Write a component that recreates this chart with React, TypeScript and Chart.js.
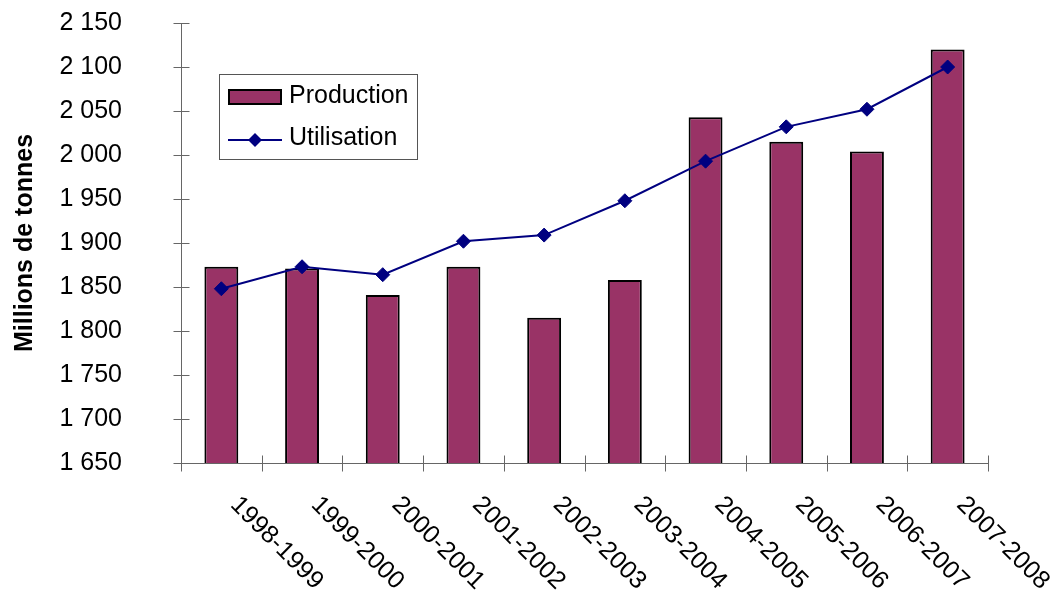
import React, { useEffect, useRef } from "react";
import { Chart, registerables } from "chart.js";
Chart.register(...registerables);

const categories = [
  "1998-1999", "1999-2000", "2000-2001", "2001-2002", "2002-2003",
  "2003-2004", "2004-2005", "2005-2006", "2006-2007", "2007-2008",
];
const production = [1873, 1871, 1841, 1873, 1815, 1858, 2043, 2015, 2004, 2120];
const utilisation = [1848, 1873, 1864, 1902, 1909, 1948, 1993, 2032, 2052, 2100];
const seriesNames = ["Production", "Utilisation"];
const yMin = 1650;
const yMax = 2150;
const yStep = 50;
const yTitle = "Millions de tonnes";

const FONT = "'Liberation Sans', Arial, sans-serif";
const BAR_COLOR = "#993366";
const LINE_COLOR = "#000080";
const AXIS_COLOR = "#666666";

const fmt = (v: number) => {
  const s = String(Math.round(v));
  return s.replace(/\B(?=(\d{3})+(?!\d))/g, " ");
};

const customPlugin = {
  id: "custom",
  afterDraw(chart: any) {
    const ctx = chart.ctx as CanvasRenderingContext2D;
    const x = chart.scales.x;
    const y = chart.scales.y;
    const area = chart.chartArea;
    ctx.save();
    // crossing tick marks
    ctx.strokeStyle = AXIS_COLOR;
    ctx.lineWidth = 1;
    ctx.beginPath();
    const ax = Math.round(area.left) + 0.5;
    const ay = Math.round(area.bottom) + 0.5;
    y.ticks.forEach((_t: any, i: number) => {
      const py = Math.round(y.getPixelForTick(i)) + 0.5;
      ctx.moveTo(ax - 8, py);
      ctx.lineTo(ax + 8, py);
    });
    const n = categories.length;
    const w = (area.right - area.left) / n;
    for (let i = 0; i <= n; i++) {
      const px = Math.round(area.left + w * i) + 0.5;
      ctx.moveTo(px, ay - 8);
      ctx.lineTo(px, ay + 8);
    }
    ctx.stroke();

    // rotated category labels
    ctx.fillStyle = "#000";
    ctx.font = `25px ${FONT}`;
    ctx.textAlign = "left";
    ctx.textBaseline = "middle";
    categories.forEach((c, i) => {
      const cx = x.getPixelForValue(i);
      ctx.save();
      ctx.translate(cx + 13, area.bottom + 38);
      ctx.rotate(Math.PI / 4);
      ctx.fillText(c, 0, 0);
      ctx.restore();
    });

    // legend
    const lx = 219.5, ly = 74.5, lw = 198, lh = 85;
    ctx.fillStyle = "#fff";
    ctx.fillRect(lx, ly, lw, lh);
    ctx.strokeStyle = "#555";
    ctx.lineWidth = 1;
    ctx.strokeRect(lx, ly, lw, lh);
    ctx.fillStyle = BAR_COLOR;
    ctx.fillRect(229, 90, 52, 14);
    ctx.strokeStyle = "#000";
    ctx.lineWidth = 2;
    ctx.strokeRect(229, 90, 52, 14);
    ctx.strokeStyle = LINE_COLOR;
    ctx.lineWidth = 2;
    ctx.beginPath();
    ctx.moveTo(228, 140);
    ctx.lineTo(282, 140);
    ctx.stroke();
    ctx.fillStyle = LINE_COLOR;
    ctx.beginPath();
    ctx.moveTo(255, 133);
    ctx.lineTo(262, 140);
    ctx.lineTo(255, 147);
    ctx.lineTo(248, 140);
    ctx.closePath();
    ctx.fill();
    ctx.fillStyle = "#000";
    ctx.font = `25px ${FONT}`;
    ctx.textAlign = "left";
    ctx.textBaseline = "middle";
    ctx.fillText(seriesNames[0], 289, 96);
    ctx.fillText(seriesNames[1], 289, 138);
    ctx.restore();
  },
};

export default function App() {
  const ref = useRef<HTMLCanvasElement>(null);
  useEffect(() => {
    document.body.style.margin = "0";
    const chart = new Chart(ref.current!, {
      type: "bar",
      data: {
        labels: categories,
        datasets: [
          {
            type: "line",
            label: seriesNames[1],
            data: utilisation,
            borderColor: LINE_COLOR,
            backgroundColor: LINE_COLOR,
            borderWidth: 2,
            pointStyle: "rectRot",
            pointRadius: 7,
            pointBackgroundColor: LINE_COLOR,
            pointBorderColor: LINE_COLOR,
            pointBorderWidth: 1,
            tension: 0,
            order: 0,
          } as any,
          {
            type: "bar",
            label: seriesNames[0],
            data: production,
            backgroundColor: BAR_COLOR,
            borderColor: "#000",
            borderWidth: 2,
            borderSkipped: false,
            categoryPercentage: 1,
            barPercentage: 0.42,
            order: 1,
          },
        ],
      },
      options: {
        animation: false,
        responsive: false,
        maintainAspectRatio: false,
        layout: { padding: { top: 23, right: 69, left: 0, bottom: 0 } },
        plugins: { legend: { display: false }, tooltip: { enabled: false } },
        scales: {
          x: {
            type: "category",
            offset: true,
            ticks: { display: false },
            grid: { display: false, offset: true },
            border: { display: true, color: AXIS_COLOR, width: 1 },
            afterFit: (s: any) => { s.height = 131; },
          },
          y: {
            min: yMin,
            max: yMax,
            ticks: {
              stepSize: yStep,
              color: "#000",
              font: { family: FONT, size: 25 },
              padding: 0,
              callback: (v: any) => fmt(Number(v)),
            },
            grid: { display: false, drawTicks: true, tickLength: 59 },
            border: { display: true, color: AXIS_COLOR, width: 1 },
            title: {
              display: true,
              text: yTitle,
              color: "#000",
              font: { family: FONT, size: 25, weight: "bold" },
              padding: { top: 10, bottom: 0 },
            },
            afterFit: (s: any) => { s.width = 181; },
          },
        },
      },
      plugins: [customPlugin],
    });
    return () => chart.destroy();
  }, []);
  return (
    <div style={{ width: 1057, height: 594, background: "#fff" }}>
      <canvas ref={ref} width={1057} height={594} />
    </div>
  );
}
